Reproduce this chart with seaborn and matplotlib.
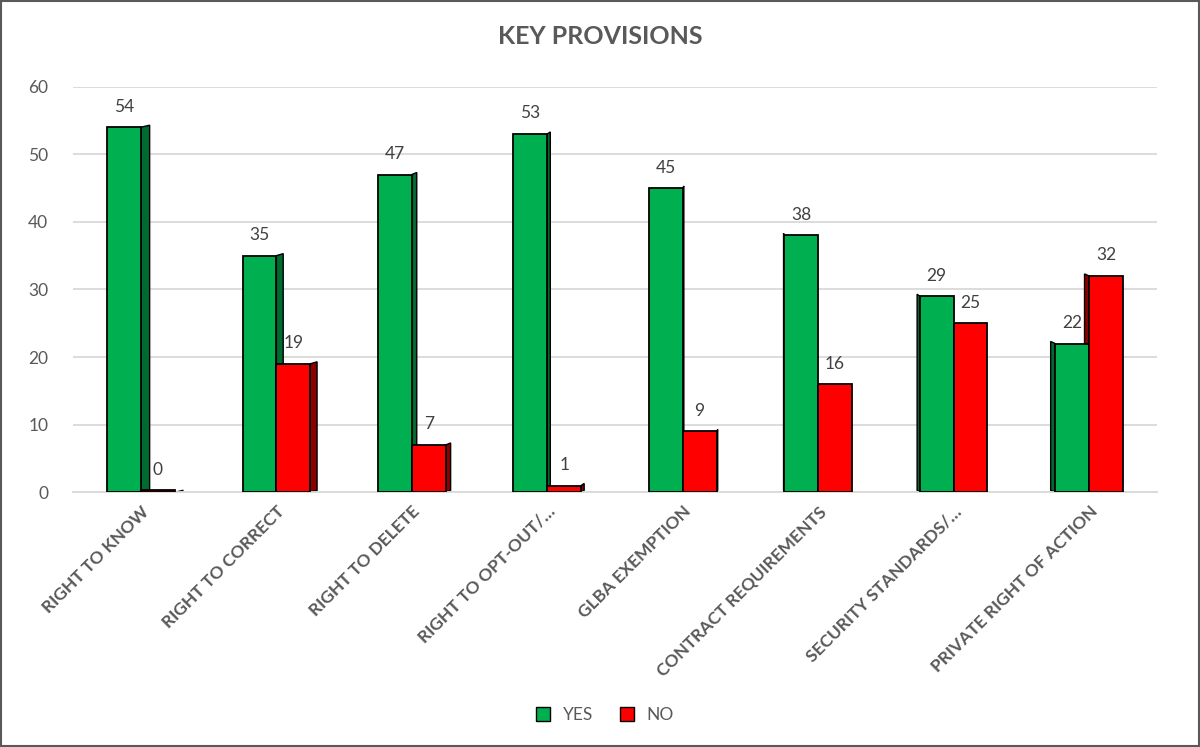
import pandas as pd
import numpy as np
import matplotlib.pyplot as plt
import seaborn as sns
from matplotlib.patches import Polygon, Rectangle
from matplotlib.lines import Line2D

# data
provisions = ["RIGHT TO KNOW", "RIGHT TO CORRECT", "RIGHT TO DELETE", "RIGHT TO OPT-OUT/\u2026",
              "GLBA EXEMPTION", "CONTRACT REQUIREMENTS", "SECURITY STANDARDS/\u2026",
              "PRIVATE RIGHT OF ACTION"]
yes_counts = [54, 35, 47, 53, 45, 38, 29, 22]
no_counts = [0, 19, 7, 1, 9, 16, 25, 32]

df = pd.DataFrame({
    "Provision": provisions * 2,
    "Answer": ["YES"] * len(provisions) + ["NO"] * len(provisions),
    "Count": yes_counts + no_counts,
})

colors = {"YES": "#00B050", "NO": "#FF0000"}
side_colors = {"YES": "#006B30", "NO": "#8B0000"}

sns.set_style("white")
plt.rcParams["font.family"] = ["Lato", "DejaVu Sans"]

fig = plt.figure(figsize=(12, 7.47), dpi=100)
ax = fig.add_axes([0.061, 0.341, 0.903, 0.543])

sns.barplot(data=df, x="Provision", y="Count", hue="Answer", palette=colors,
            width=0.5, gap=0, edgecolor="black", linewidth=1.3, legend=False,
            saturation=1, ax=ax, zorder=3)

# fake 3d side faces, taken from the drawn bars
for cont, ans in zip(ax.containers, ["YES", "NO"]):
    for i, p in enumerate(cont.patches):
        x0, w, h = p.get_x(), p.get_width(), p.get_height()
        d = -0.014 * (i - 4.6)
        xs = x0 + w if d > 0 else x0
        dy = 0.3
        poly = Polygon([(xs, 0), (xs + d, dy), (xs + d, h + dy), (xs, h)],
                       closed=True, facecolor=side_colors[ans], edgecolor="black",
                       linewidth=1.0, zorder=2)
        ax.add_patch(poly)
        if h < 0.5:
            p.set_height(0.3)
    ax.bar_label(cont, labels=[str(int(v)) for v in cont.datavalues], padding=9,
                 fontsize=12.5, color="#404040")

ax.set_ylim(0, 60)
ax.set_xlim(-0.5, len(provisions) - 0.5)
ax.set_yticks(range(0, 61, 10))
ax.yaxis.grid(True, color="#D9D9D9", linewidth=1.3, zorder=0)
ax.set_axisbelow(True)
for s in ["top", "right", "left"]:
    ax.spines[s].set_visible(False)
ax.spines["bottom"].set_color("#D9D9D9")
ax.spines["bottom"].set_linewidth(1.3)
ax.tick_params(axis="y", length=0, pad=18, labelsize=12.5, labelcolor="#595959")
ax.tick_params(axis="x", length=0, pad=8)
ax.set_xticks(range(len(provisions)))
ax.set_xticklabels(provisions, rotation=45, ha="right", rotation_mode="anchor",
                   fontsize=12.5, fontweight="bold", color="#595959")
ax.set_xlabel("")
ax.set_ylabel("")

fig.text(0.5, 0.951, "KEY PROVISIONS", ha="center", va="center", fontsize=18,
         fontweight="bold", color="#595959")

handles = [Line2D([], [], marker="s", linestyle="", markersize=10,
                  markerfacecolor=colors[k], markeredgecolor="black", label=k)
           for k in ["YES", "NO"]]
fig.legend(handles=handles, loc="center", bbox_to_anchor=(0.5, 0.043), ncol=2,
           frameon=False, fontsize=12.5, handletextpad=0.1, columnspacing=1.0,
           labelcolor="#595959")

fig.patches.append(Rectangle((0.001, 0.001), 0.998, 0.998, transform=fig.transFigure,
                             fill=False, edgecolor="#595959", linewidth=1.5))

fig.savefig("out.png", dpi=100)
